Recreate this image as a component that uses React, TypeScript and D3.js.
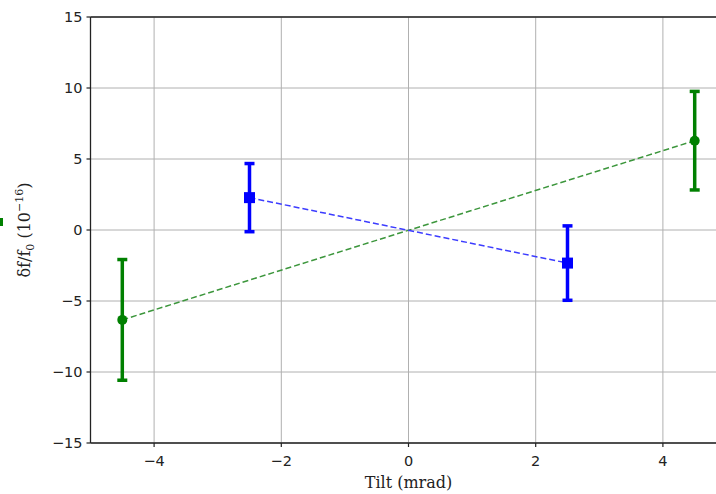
import React from "react";
import * as d3 from "d3";

const greenX = [-4.5, 4.5];
const greenY = [-6.33, 6.29];
const greenErr = [4.25, 3.47];
const blueX = [-2.5, 2.5];
const blueY = [2.28, -2.33];
const blueErr = [2.4, 2.62];
const xTicks = [-4, -2, 0, 2, 4];
const yTicks = [-15, -10, -5, 0, 5, 10, 15];

const W = 716, H = 494;
const x = d3.scaleLinear().domain([-5, 5]).range([90.5, 726.5]);
const y = d3.scaleLinear().domain([-15, 15]).range([443, 17]);

const fmt = (v: number) => (v < 0 ? "\u2212" + Math.abs(v) : String(v));

function Series({ xs, ys, es, color, lineColor, square }: any) {
  const line = d3.line<number>().x((_, i) => x(xs[i])).y((_, i) => y(ys[i]));
  return (
    <g>
      <path d={line(xs) || ""} fill="none" stroke={lineColor} strokeWidth={1.5} strokeDasharray="6,3" />
      {xs.map((xv: number, i: number) => {
        const cx = x(xv), cy = y(ys[i]);
        const top = y(ys[i] + es[i]), bot = y(ys[i] - es[i]);
        return (
          <g key={i}>
            <line x1={cx} x2={cx} y1={top} y2={bot} stroke={color} strokeWidth={3.5} />
            <line x1={cx - 5} x2={cx + 5} y1={top} y2={top} stroke={color} strokeWidth={3.5} />
            <line x1={cx - 5} x2={cx + 5} y1={bot} y2={bot} stroke={color} strokeWidth={3.5} />
            {square ? (
              <rect x={cx - 5.5} y={cy - 5.5} width={11} height={11} fill={color} />
            ) : (
              <circle cx={cx} cy={cy} r={5} fill={color} />
            )}
          </g>
        );
      })}
    </g>
  );
}

export default function App() {
  const tickFont = "'DejaVu Sans', sans-serif";
  return (
    <svg width={W} height={H} style={{ position: "absolute", left: 0, top: 0, background: "#fff" }}>
      <rect x={0} y={0} width={W} height={H} fill="#fff" />
      {xTicks.map((t) => (
        <line key={"gx" + t} x1={x(t)} x2={x(t)} y1={y(15)} y2={y(-15)} stroke="#b0b0b0" strokeWidth={1} />
      ))}
      {yTicks.map((t) => (
        <line key={"gy" + t} x1={x(-5)} x2={x(5)} y1={y(t)} y2={y(t)} stroke="#b0b0b0" strokeWidth={1} />
      ))}
      <Series xs={greenX} ys={greenY} es={greenErr} color="#008000" lineColor="#3c963c" square={false} />
      <Series xs={blueX} ys={blueY} es={blueErr} color="#0000ff" lineColor="#3c3cff" square={true} />
      <line x1={x(-5)} x2={x(-5)} y1={y(15)} y2={y(-15)} stroke="#222" strokeWidth={1.3} />
      <line x1={x(-5)} x2={x(5)} y1={y(-15)} y2={y(-15)} stroke="#222" strokeWidth={1.3} />
      <line x1={x(-5)} x2={x(5)} y1={y(15)} y2={y(15)} stroke="#222" strokeWidth={1.3} />
      <line x1={x(5)} x2={x(5)} y1={y(15)} y2={y(-15)} stroke="#222" strokeWidth={1.3} />
      {xTicks.map((t) => (
        <g key={"tx" + t}>
          <line x1={x(t)} x2={x(t)} y1={y(-15)} y2={y(-15) + 4} stroke="#222" strokeWidth={1.2} />
          <text x={x(t)} y={y(-15) + 23} textAnchor="middle" fontFamily={tickFont} fontSize={14.5} fill="#222">
            {fmt(t)}
          </text>
        </g>
      ))}
      {yTicks.map((t) => (
        <g key={"ty" + t}>
          <line x1={x(-5) - 4} x2={x(-5)} y1={y(t)} y2={y(t)} stroke="#222" strokeWidth={1.2} />
          <text x={x(-5) - 8} y={y(t) + 5} textAnchor="end" fontFamily={tickFont} fontSize={14.5} fill="#222">
            {fmt(t)}
          </text>
        </g>
      ))}
      <text x={x(0)} y={488} textAnchor="middle" fontFamily="'DejaVu Serif', 'Liberation Serif', serif" fontSize={16} fill="#222">
        Tilt (mrad)
      </text>
      <text
        transform={`translate(30, ${y(0)}) rotate(-90)`}
        textAnchor="middle"
        fontFamily="'DejaVu Serif', 'Liberation Serif', serif"
        fontSize={16}
        fill="#222"
      >
        <tspan>δf</tspan>
        <tspan>/f</tspan>
        <tspan fontSize={11} dy={4}>0</tspan>
        <tspan dy={-4}> (10</tspan>
        <tspan fontSize={11} dy={-7}>−16</tspan>
        <tspan dy={7}>)</tspan>
      </text>
      <rect x={0} y={218} width={3} height={8} fill="#008000" />
    </svg>
  );
}
